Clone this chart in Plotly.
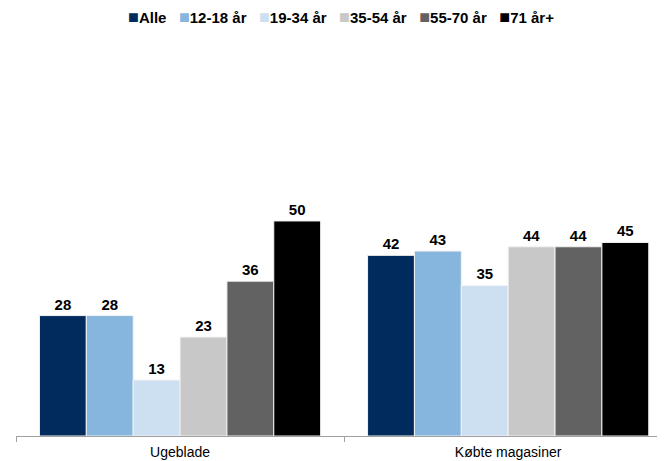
import plotly.graph_objects as go

# Data
categories = ['Ugeblade', 'Købte magasiner']
series_names = ['Alle', '12-18 år', '19-34 år', '35-54 år', '55-70 år', '71 år+']
values_alle = [28, 42]
values_12_18 = [28, 43]
values_19_34 = [13, 35]
values_35_54 = [23, 44]
values_55_70 = [36, 44]
values_71 = [50, 45]
colors = ['#002B5C', '#86B6DE', '#CDE0F1', '#C8C8C8', '#626262', '#000000']

all_values = [values_alle, values_12_18, values_19_34, values_35_54, values_55_70, values_71]

FONT = 'Liberation Sans, Arial, sans-serif'

fig = go.Figure()
for name, vals, col in zip(series_names, all_values, colors):
    fig.add_trace(go.Bar(
        x=categories,
        y=vals,
        name=name,
        marker=dict(color=col, line=dict(color='#F2F2F2', width=1)),
        text=[str(v) for v in vals],
        textposition='outside',
        textfont=dict(family=FONT, size=15, color='#000000', weight='bold'),
        cliponaxis=False,
    ))

# legend drawn as one line of text with coloured squares
gap = '\u00a0' * 3
legend_parts = []
for name, col in zip(series_names, colors):
    legend_parts.append(f"<span style='color:{col};font-size:18px'>■</span>{name}")
legend_text = gap.join(legend_parts)

# the page body adds an 8px margin, so the figure is sized to fit inside it
fig.update_layout(
    width=657,
    height=453,
    barmode='group',
    bargap=0.143,
    bargroupgap=0,
    paper_bgcolor='white',
    plot_bgcolor='white',
    margin=dict(l=8, r=0, t=22, b=25, autoexpand=False),
    font=dict(family=FONT, size=14, color='#000000'),
    showlegend=False,
    annotations=[dict(
        text=legend_text,
        xref='paper', yref='paper',
        x=0.5, y=1.032,
        xanchor='center', yanchor='middle',
        showarrow=False,
        font=dict(family=FONT, size=15, color='#000000', weight='bold'),
    )],
)

fig.update_xaxes(
    range=[-0.5, 1.478],
    showline=True,
    linecolor='#A0A0A0',
    linewidth=1,
    ticks='outside',
    tickson='boundaries',
    ticklen=5,
    tickcolor='#A0A0A0',
    ticklabelstandoff=3,
    tickfont=dict(family=FONT, size=14, color='#000000'),
    showgrid=False,
)
fig.update_yaxes(
    range=[0, 94.4],
    visible=False,
    showgrid=False,
)

fig.write_html("out.html")
